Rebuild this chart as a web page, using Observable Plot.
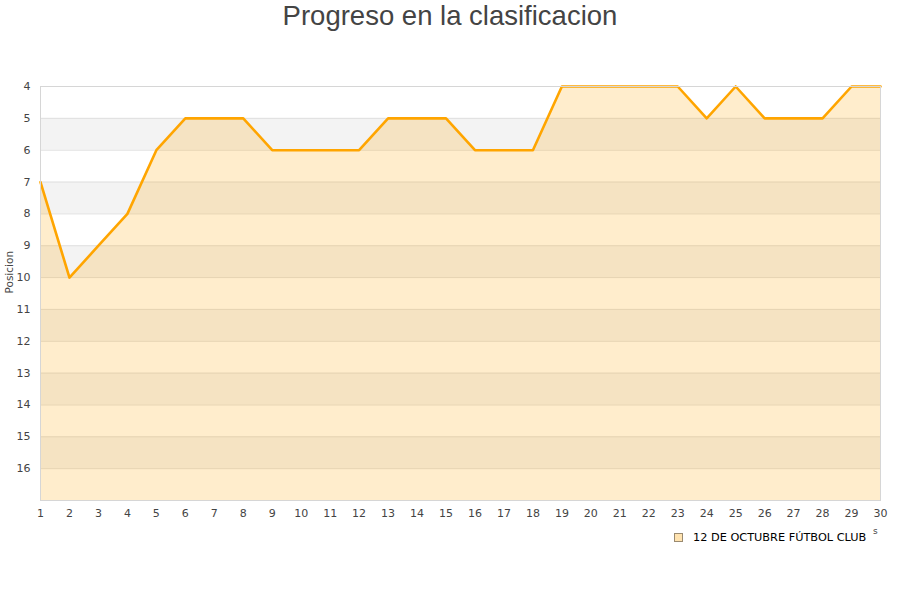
<!DOCTYPE html>
<html>
<head>
<meta charset="utf-8">
<script src="https://cdn.jsdelivr.net/npm/d3@7"></script>
<script src="https://cdn.jsdelivr.net/npm/@observablehq/plot@0.6"></script>
<style>
  body { margin: 0; background: #fff; }
  #wrap { position: relative; width: 900px; height: 600px; font-family: "DejaVu Sans", sans-serif; }
  #title { position: absolute; top: 0; left: 0; width: 900px; text-align: center; font-family: "Liberation Sans", Arial, sans-serif; font-size: 27.5px; color: #444; line-height: 32px; }
  #legend { position: absolute; top: 531px; left: 674px; font-size: 11.3px; color: #000; display: flex; align-items: center; }
  #legend .sw { width: 7px; height: 7px; background: #ffe3b0; border: 1px solid #9a8a70; margin-right: 10px; }
  #stray { position: absolute; top: 526px; left: 873px; font-size: 9px; color: #444; }
  #chart { position: absolute; top: 0; left: 0; }
</style>
</head>
<body>
<div id="wrap">
  <div id="chart"></div>
  <div id="title">Progreso en la clasificacion</div>
  <div id="legend"><span class="sw"></span><span>12 DE OCTUBRE FÚTBOL CLUB</span></div>
  <div id="stray">s</div>
</div>
<script>
const rounds = d3.range(1, 31);
const positions = [7, 10, 9, 8, 6, 5, 5, 5, 6, 6, 6, 6, 5, 5, 5, 6, 6, 6, 4, 4, 4, 4, 4, 5, 4, 5, 5, 5, 4, 4];
const yTicks = d3.range(4, 17);
const yMin = 4, yMax = 17;
const bandStarts = [5, 7, 9, 11, 13, 15];
const team = "12 DE OCTUBRE FÚTBOL CLUB";

const data = rounds.map((r, i) => ({round: r, pos: positions[i]}));
const xFirst = rounds[0], xLast = rounds[rounds.length - 1];

const chart = Plot.plot({
  width: 900,
  height: 600,
  marginTop: 86,
  marginBottom: 100,
  marginLeft: 40,
  marginRight: 20,
  style: {fontFamily: "DejaVu Sans, sans-serif", fontSize: "11px", color: "#444", background: "transparent"},
  x: {domain: [xFirst, xLast]},
  y: {domain: [yMin, yMax], reverse: true},
  marks: [
    Plot.rect(bandStarts, {x1: xFirst, x2: xLast, y1: d => d, y2: d => d + 1, fill: "#f3f3f3"}),
    Plot.ruleY(d3.range(yMin, yMax + 1), {stroke: "#e0e0e0", strokeWidth: 1}),
    Plot.areaY(data, {x: "round", y1: yMax, y2: "pos", fill: "#ffa500", fillOpacity: 0.2}),
    Plot.lineY(data, {x: "round", y: "pos", stroke: "#ffa500", strokeWidth: 2.6}),
    Plot.frame({stroke: "#d6d6d6"}),
    Plot.axisY(yTicks, {tickSize: 0, tickPadding: 10, label: null, fontSize: 11, fill: "#444"}),
    Plot.axisX(rounds, {tickSize: 0, tickPadding: 9, label: null, fontSize: 11, fill: "#444"}),
    Plot.text(["Posicion"], {frameAnchor: "left", dx: -31, rotate: -90, fontSize: 10.5, fill: "#444", text: d => d})
  ]
});
document.getElementById("chart").appendChild(chart);
</script>
</body>
</html>
